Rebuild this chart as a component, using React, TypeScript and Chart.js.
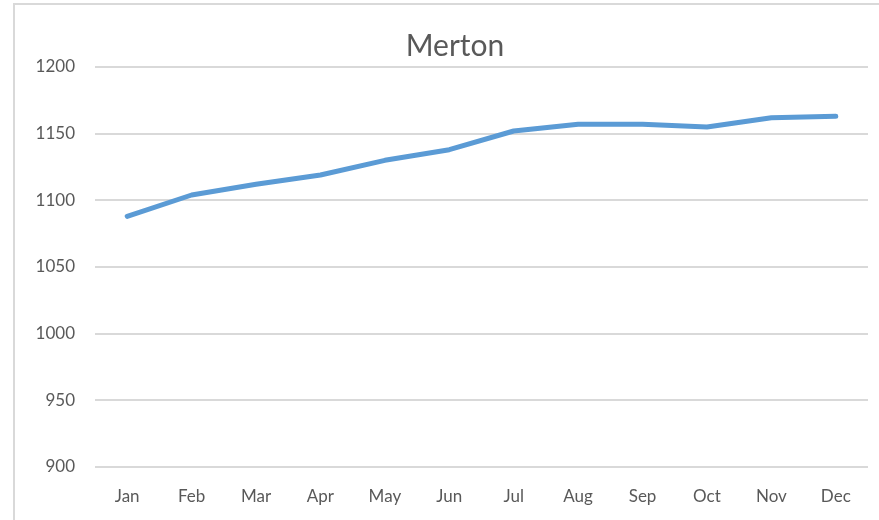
import React, { useEffect, useRef } from "react";
import { Chart, registerables } from "chart.js";

Chart.register(...registerables);

const months = ["Jan", "Feb", "Mar", "Apr", "May", "Jun", "Jul", "Aug", "Sep", "Oct", "Nov", "Dec"];
const mertonValues = [1088, 1104, 1112, 1119, 1130, 1138, 1152, 1157, 1157, 1155, 1162, 1163];
const yTicks = [900, 950, 1000, 1050, 1100, 1150, 1200];
const chartTitle = "Merton";

const titlePlugin = {
  id: "offsetTitle",
  afterDraw(chart: any) {
    const ctx = chart.ctx;
    ctx.save();
    ctx.fillStyle = "#595959";
    ctx.font = "30px Lato";
    ctx.textAlign = "center";
    ctx.textBaseline = "alphabetic";
    ctx.fillText(chartTitle, 455, 56);
    ctx.restore();
  },
};

export default function App() {
  const canvasRef = useRef<HTMLCanvasElement | null>(null);

  useEffect(() => {
    const canvas = canvasRef.current;
    if (!canvas) return;
    const chart = new Chart(canvas, {
      type: "line",
      data: {
        labels: months,
        datasets: [
          {
            label: chartTitle,
            data: mertonValues,
            borderColor: "#5b9bd5",
            backgroundColor: "#5b9bd5",
            borderWidth: 5,
            pointRadius: 0,
            tension: 0,
            borderCapStyle: "round",
            borderJoinStyle: "round",
            fill: false,
          },
        ],
      },
      options: {
        animation: false,
        responsive: false,
        maintainAspectRatio: false,
        layout: { padding: { left: 0, right: 11, top: 67, bottom: 0 } },
        plugins: {
          legend: { display: false },
          tooltip: { enabled: false },
          title: { display: false },
        },
        scales: {
          x: {
            offset: true,
            grid: { display: false, drawTicks: false },
            border: { display: false },
            ticks: {
              color: "#595959",
              font: { family: "Lato", size: 17 },
              padding: 19,
              maxRotation: 0,
            },
            afterFit: (scale: any) => {
              scale.height = 53;
            },
          },
          y: {
            min: 900,
            max: 1200,
            afterBuildTicks: (scale: any) => {
              scale.ticks = yTicks.map((v) => ({ value: v }));
            },
            grid: { color: "#d9d9d9", lineWidth: 2, drawTicks: false },
            border: { display: false },
            ticks: {
              color: "#595959",
              font: { family: "Lato", size: 17 },
              padding: 20,
              callback: (value: any) => String(value),
            },
            afterFit: (scale: any) => {
              scale.width = 95;
            },
          },
        },
      },
      plugins: [titlePlugin],
    });
    return () => chart.destroy();
  }, []);

  return (
    <div
      style={{
        position: "fixed",
        left: 0,
        top: 0,
        width: 879,
        height: 520,
        overflow: "hidden",
        background: "#ffffff",
      }}
    >
      <div
        style={{
          position: "absolute",
          left: 13,
          top: 3,
          width: 900,
          height: 600,
          border: "2px solid #d9d9d9",
          boxSizing: "border-box",
        }}
      />
      <canvas
        ref={canvasRef}
        width={879}
        height={520}
        style={{ position: "absolute", left: 0, top: 0, width: 879, height: 520 }}
      />
    </div>
  );
}
